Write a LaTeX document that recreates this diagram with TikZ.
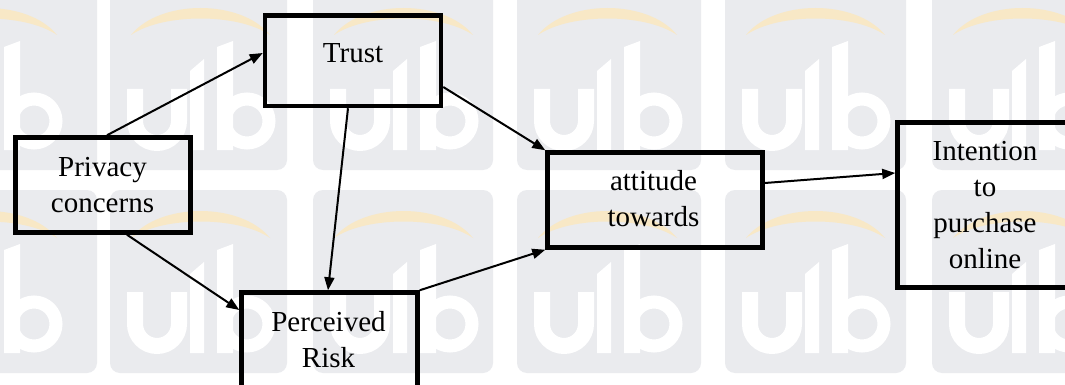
\documentclass[tikz,border=0pt]{standalone}
\usepackage{fontspec}
\setmainfont{Liberation Serif}
\newfontfamily\boxfont{Liberation Serif}
\usetikzlibrary{arrows.meta}

\definecolor{wmgray}{RGB}{234,235,238}
\definecolor{wmarc}{RGB}{248,232,198}

% one watermark tile: #1 left, #2 top, #3 width, #4 left of the logo
\newcommand\wmtile[4]{%
  \fill[wmgray, rounded corners=10pt] (#1,#2) rectangle ++(#3,183);
  \begin{scope}[shift={(#4,#2)}]
    \fill[wmarc] (21,48) .. controls (50,12) and (131,12) .. (160,48)
                 .. controls (128,26) and (53,26) .. (21,48) -- cycle;
    \draw[white, line width=16pt] (25,102) -- (25,134)
         arc[start angle=180, end angle=360, radius=22pt] -- (69,102);
    \fill[white] (80,84) -- (94,72) -- (94,163) -- (80,163) -- cycle;
    \fill[white] (107,60) -- (123,54) -- (123,163) -- (107,163) -- cycle;
    \draw[white, line width=13pt] (137,134) circle[radius=22pt];
  \end{scope}}

\tikzset{
  box/.style={draw, line width=4.5pt, rectangle, inner sep=0pt},
  lbl/.style={align=center, inner sep=0pt, font=\boxfont\fontsize{29}{36}\selectfont},
  link/.style={line width=2pt, -{Triangle[length=13pt, width=10pt]}},
}

\begin{document}
\begin{tikzpicture}[x=1pt, y=-1pt]
  \useasboundingbox (0,0) rectangle (1065,385);
  \clip (0,0) rectangle (1065,385);
  \fill[white] (0,0) rectangle (1065,385);

  % watermark background
  \foreach \ty in {-13,190} {
    \wmtile{-84}{\ty}{181}{-103}
    \wmtile{110}{\ty}{177}{110}
    \wmtile{313}{\ty}{180}{313}
    \wmtile{517}{\ty}{184}{517}
    \wmtile{725}{\ty}{181}{725}
    \wmtile{932}{\ty}{181}{932}
  }

  % boxes
  \node[box, minimum width=175pt, minimum height=95pt]    (privacy)   at (103,185) {};
  \node[box, minimum width=176pt, minimum height=90.5pt]  (trust)     at (353,60.75) {};
  \node[box, minimum width=176pt, minimum height=112.5pt] (risk)      at (329.5,348.75) {};
  \node[box, minimum width=215pt, minimum height=95pt]    (attitude)  at (655,200) {};
  \node[box, minimum width=172.5pt, minimum height=165pt] (intention) at (983.75,205) {};

  % texts
  \node[lbl] (tPrivacy)   at (102.5,186.8) {\strut Privacy\\concerns\strut};
  \node[lbl] (tTrust)     at (353,55.8)    {\strut Trust\strut};
  \node[lbl] (tRisk)      at (328.5,342.5) {\strut Perceived\\Risk\strut};
  \node[lbl] (tAttitude)  at (653.5,200.8) {\strut attitude\\towards\strut};
  \node[lbl] (tIntention) at (985,207.5)   {\strut Intention\\to\\purchase\\online\strut};

  % connectors
  \draw[link] ([xshift=4pt]privacy.north) -- ([yshift=7.75pt]trust.west);
  \draw[link] ([xshift=24pt]privacy.south) -- ([yshift=38.75pt]risk.west);
  \draw[link] ([xshift=-5pt]trust.south) -- ([xshift=-1.5pt]risk.north);
  \draw[link] ([yshift=-26.25pt]trust.east) -- (attitude.north west);
  \draw[link] (risk.north east) -- (attitude.south west);
  \draw[link] ([yshift=17pt]attitude.east) -- ([yshift=32pt]intention.west);
\end{tikzpicture}
\end{document}
